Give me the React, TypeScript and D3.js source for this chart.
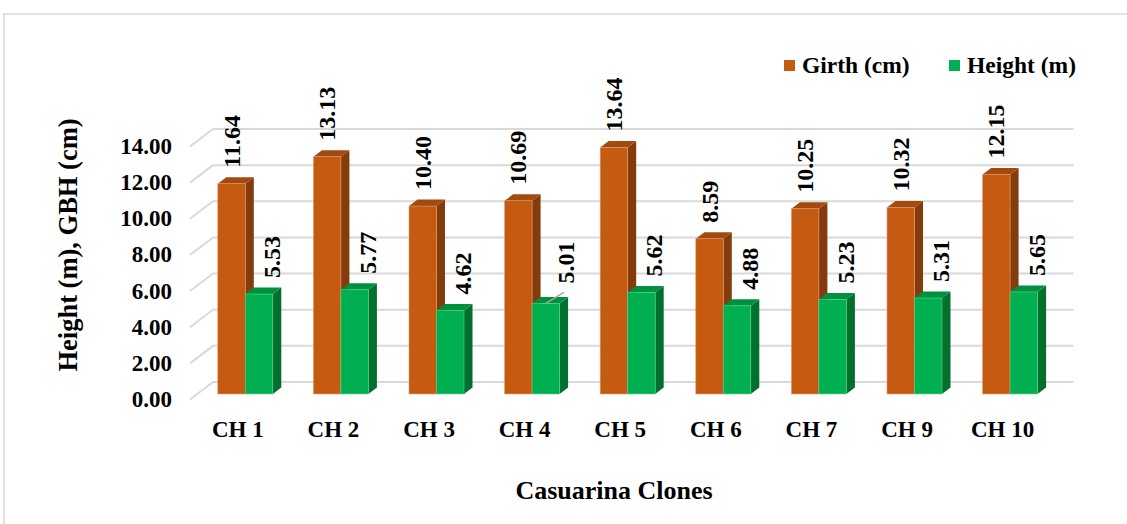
import React from "react";
import * as d3 from "d3";

const categories = ["CH 1", "CH 2", "CH 3", "CH 4", "CH 5", "CH 6", "CH 7", "CH 9", "CH 10"];
const girth = [11.64, 13.13, 10.4, 10.69, 13.64, 8.59, 10.25, 10.32, 12.15];
const height = [5.53, 5.77, 4.62, 5.01, 5.62, 4.88, 5.23, 5.31, 5.65];
const yTicks = [0, 2, 4, 6, 8, 10, 12, 14];
const seriesNames = ["Girth (cm)", "Height (m)"];

const FONT = "Liberation Serif";

const colors = [
  { front: "#c55a11", side: "#843c0c", top: "#a34a0f", stroke: "#e39a70" },
  { front: "#00b050", side: "#00702f", top: "#00913f", stroke: "#5fd08e" },
];

export default function App() {
  const W = 1127, H = 524;
  const frontLeft = 190, frontRight = 1050.4, frontBase = 399.5;
  const depthDx = 23, depthDy = -17.5; // front plane -> back wall
  const barOffX = 7.5, barOffY = -5.5; // bar front relative to front plane
  const barDx = 8.5, barDy = -6.5; // bar depth

  const x = d3.scaleBand<string>().domain(categories).range([frontLeft, frontRight]).paddingInner(0).paddingOuter(0);
  const y = d3.scaleLinear().domain([0, 14]).range([0, 253]);
  const inner = d3.scaleBand<number>().domain([0, 1]).range([20.3, x.bandwidth() - 20.3]).padding(0);

  const series = [girth, height];

  const bars: React.ReactNode[] = [];
  categories.forEach((c, i) => {
    series.forEach((vals, s) => {
      const v = vals[i];
      const x0 = (x(c) as number) + inner(s)! + barOffX;
      const w = inner.bandwidth();
      const yb = frontBase + barOffY;
      const yt = yb - y(v);
      const col = colors[s];
      const side = `M${x0 + w},${yt} L${x0 + w + barDx},${yt + barDy} L${x0 + w + barDx},${yb + barDy} L${x0 + w},${yb} Z`;
      const top = `M${x0},${yt} L${x0 + barDx},${yt + barDy} L${x0 + w + barDx},${yt + barDy} L${x0 + w},${yt} Z`;
      bars.push(
        <g key={`${c}-${s}`}>
          <path d={side} fill={col.side} />
          <path d={top} fill={col.top} />
          <rect x={x0} y={yt} width={w} height={y(v)} fill={col.front} stroke={col.stroke} strokeWidth={0.6} />
        </g>
      );
    });
  });

  const labels: React.ReactNode[] = [];
  categories.forEach((c, i) => {
    series.forEach((vals, s) => {
      const v = vals[i];
      const x0 = (x(c) as number) + inner(s)! + barOffX;
      const w = inner.bandwidth();
      const yt = frontBase + barOffY - y(v);
      const leader = s === 1 && c === "CH 4";
      const cx = x0 + w / 2 + (s === 1 ? (leader ? 20 : 13) : 0);
      const by = yt - (leader ? 20 : 16);
      labels.push(
        <g key={`l-${c}-${s}`}>
          {leader && (
            <line x1={x0 + w / 2} y1={yt} x2={x0 + w / 2 + 18} y2={yt - 11} stroke="#a6a6a6" strokeWidth={1.5} />
          )}
          <text
            transform={`translate(${cx},${by}) rotate(-90)`}
            dominantBaseline="central"
            textAnchor="start"
            fontFamily={FONT}
            fontWeight="bold"
            fontSize={24}
            fill="#000"
          >
            {v.toFixed(2)}
          </text>
        </g>
      );
    });
  });

  return (
    <svg width={W} height={H} style={{ position: "absolute", left: 0, top: 0 }}>
      <rect x={0} y={0} width={W} height={H} fill="#fff" />
      <rect x={4} y={14} width={W + 10} height={H + 10} fill="#fff" stroke="#d9d9d9" strokeWidth={1.5} />
      {/* gridlines */}
      {yTicks.map((t) => {
        const fy = frontBase - y(t);
        return (
          <g key={`g${t}`}>
            <line x1={frontLeft} y1={fy} x2={frontLeft + depthDx} y2={fy + depthDy} stroke="#d9d9d9" strokeWidth={2} />
            <line x1={frontLeft + depthDx} y1={fy + depthDy} x2={frontRight + depthDx} y2={fy + depthDy} stroke="#d9d9d9" strokeWidth={2} />
          </g>
        );
      })}
      {/* y tick labels */}
      {yTicks.map((t) => (
        <text
          key={`t${t}`}
          x={172}
          y={frontBase - y(t)}
          textAnchor="end"
          dominantBaseline="central"
          fontFamily={FONT}
          fontWeight="bold"
          fontSize={23}
        >
          {t.toFixed(2)}
        </text>
      ))}
      {bars}
      {labels}
      {/* category labels */}
      {categories.map((c) => (
        <text
          key={`c${c}`}
          x={(x(c) as number) + x.bandwidth() / 2}
          y={437}
          textAnchor="middle"
          fontFamily={FONT}
          fontWeight="bold"
          fontSize={23}
        >
          {c}
        </text>
      ))}
      {/* axis titles */}
      <text x={614} y={499} textAnchor="middle" fontFamily={FONT} fontWeight="bold" fontSize={26}>
        Casuarina Clones
      </text>
      <text
        transform={`translate(68,245) rotate(-90)`}
        textAnchor="middle"
        dominantBaseline="central"
        fontFamily={FONT}
        fontWeight="bold"
        fontSize={26.5}
      >
        Height (m), GBH (cm)
      </text>
      {/* legend */}
      {seriesNames.map((n, s) => {
        const lx = s === 0 ? 784 : 949;
        return (
          <g key={`lg${s}`}>
            <rect x={lx} y={60} width={11} height={11} fill={colors[s].front} />
            <text x={lx + 18} y={73} fontFamily={FONT} fontWeight="bold" fontSize={23.5}>
              {n}
            </text>
          </g>
        );
      })}
    </svg>
  );
}
